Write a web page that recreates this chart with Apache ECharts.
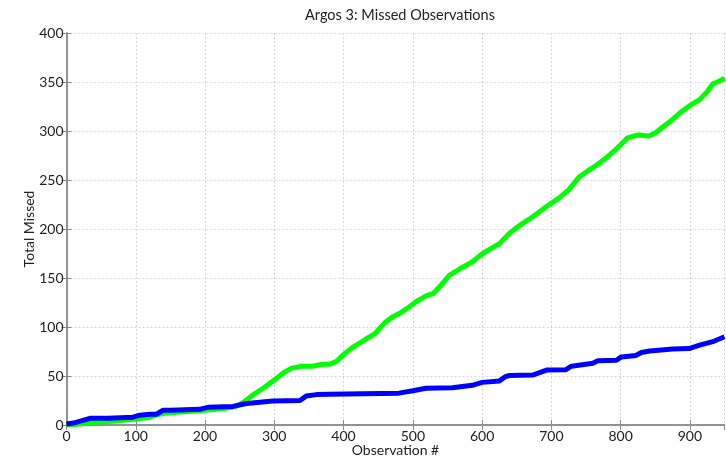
<!DOCTYPE html>
<html>
<head>
<meta charset="utf-8">
<title>Argos 3: Missed Observations</title>
<script src="https://cdn.jsdelivr.net/npm/echarts@6/dist/echarts.min.js"></script>
<style>
  html, body { margin: 0; padding: 0; background: #fff; }
  #chart { width: 726px; height: 459px; }
</style>
</head>
<body>
<div id="chart"></div>
<script>
// Cumulative missed observations for two tracking runs
const greenObs = [0, 10, 20, 30, 50, 70, 100, 120, 130, 140, 160, 200, 230, 245, 255, 270, 285, 300, 315, 325, 340, 355, 370, 380, 390, 400, 415, 433, 445, 459, 470, 481, 492, 505, 520, 529, 540, 553, 565, 572, 585, 601, 615, 625, 640, 655, 668, 680, 695, 710, 725, 740, 752, 765, 780, 793, 800, 810, 825, 841, 850, 861, 872, 885, 900, 914, 925, 933, 943, 950];
const greenMissed = [0, 0.5, 1, 2, 3, 4, 6, 8, 10, 12, 13, 15, 17, 19, 23, 31, 38, 46, 54, 58, 60, 60, 62, 62, 65, 72, 80, 88, 93, 104, 110, 114, 119, 126, 132, 134, 142, 153, 158, 161, 166, 175, 181, 185, 196, 204, 210, 216, 224, 231, 240, 253, 259, 265, 273, 281, 286, 293, 296, 295, 298, 304, 310, 318, 326, 332, 340, 348, 351, 354];

const blueObs = [0, 10, 20, 30, 35, 60, 96, 106, 120, 130, 139, 150, 192, 204, 240, 260, 298, 337, 346, 361, 380, 428, 480, 500, 519, 557, 586, 600, 625, 634, 640, 673, 693, 721, 729, 760, 767, 794, 801, 822, 830, 842, 875, 899, 914, 933, 950];
const blueMissed = [1, 2, 4, 6, 7, 7, 8, 10, 11, 11, 15, 15, 16, 18, 19, 22, 24.5, 25, 29.5, 31, 31.5, 32, 32.5, 35, 37.5, 38, 40.5, 43.5, 45, 49.5, 50.5, 51, 56, 56.5, 60, 63, 65.5, 66, 69.5, 71, 74, 75.5, 77.5, 78, 81.5, 85, 90];

const xTicks = { min: 0, max: 950, interval: 100 };
const yTicks = { min: 0, max: 400, interval: 50 };

const pairs = (xs, ys) => xs.map((x, i) => [x, ys[i]]);

const font = 'Lato, "Open Sans", sans-serif';
const frameColor = '#8c8c8c';
const gridLine = { show: true, lineStyle: { color: '#d8d8d8', type: [2, 2], width: 1 } };

const chart = echarts.init(document.getElementById('chart'), null, { renderer: 'canvas' });
chart.setOption({
  animation: false,
  backgroundColor: '#fff',
  title: {
    text: 'Argos 3: Missed Observations',
    left: 395, top: 3, textAlign: 'center',
    textStyle: { fontFamily: font, fontSize: 14.5, fontWeight: 'normal', color: '#222' }
  },
  grid: { left: 66.5, right: 1.5, top: 33, bottom: 34, outerBoundsMode: 'none' },
  xAxis: [
    {
      type: 'value', min: xTicks.min, max: xTicks.max, interval: xTicks.interval,
      name: 'Observation #', nameLocation: 'middle', nameGap: 18, nameMoveOverlap: false,
      nameTextStyle: { fontFamily: font, fontSize: 14, color: '#222' },
      axisLine: { show: true, lineStyle: { color: frameColor, width: 1.5 } },
      axisTick: { show: true, inside: true, length: 5, lineStyle: { color: frameColor } },
      axisLabel: { fontFamily: font, fontSize: 14, color: '#222', margin: 4, showMaxLabel: false },
      splitLine: gridLine
    },
    {
      type: 'value', position: 'top', min: xTicks.min, max: xTicks.max, interval: xTicks.interval,
      axisLine: { show: true, lineStyle: { color: frameColor, width: 1.5 } },
      axisTick: { show: true, inside: true, length: 5, lineStyle: { color: frameColor } },
      axisLabel: { show: false }, splitLine: { show: false }
    }
  ],
  yAxis: [
    {
      type: 'value', min: yTicks.min, max: yTicks.max, interval: yTicks.interval,
      name: 'Total Missed', nameLocation: 'middle', nameGap: 30, nameMoveOverlap: false,
      nameTextStyle: { fontFamily: font, fontSize: 14, color: '#222' },
      axisLine: { show: true, lineStyle: { color: frameColor, width: 1.5 } },
      axisTick: { show: true, inside: true, length: 5, lineStyle: { color: frameColor } },
      axisLabel: { fontFamily: font, fontSize: 14, color: '#222', margin: 3 },
      splitLine: gridLine
    },
    {
      type: 'value', position: 'right', min: yTicks.min, max: yTicks.max, interval: yTicks.interval,
      axisLine: { show: true, lineStyle: { color: frameColor, width: 1.5 } },
      axisTick: { show: true, inside: true, length: 5, lineStyle: { color: frameColor } },
      axisLabel: { show: false }, splitLine: { show: false }
    }
  ],
  series: [
    {
      name: 'Run A', type: 'line', data: pairs(greenObs, greenMissed),
      showSymbol: false, smooth: false,
      lineStyle: { color: '#00ff00', width: 5 }, itemStyle: { color: '#00ff00' }
    },
    {
      name: 'Run B', type: 'line', data: pairs(blueObs, blueMissed),
      showSymbol: false, smooth: false,
      lineStyle: { color: '#0000ff', width: 5 }, itemStyle: { color: '#0000ff' }
    }
  ]
});
</script>
</body>
</html>
